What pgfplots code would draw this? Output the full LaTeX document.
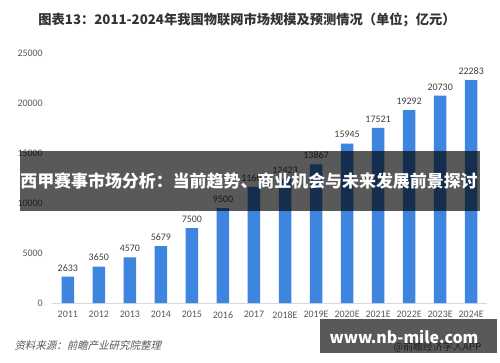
\documentclass[border=0pt]{standalone}
\usepackage{fontspec}
\usepackage{pgfplots}
\pgfplotsset{compat=1.18}
\setmainfont{Carlito}
\newfontfamily\cjk{Noto Sans CJK SC}
\newfontfamily\cjkslant[FakeSlant=0.25]{Noto Sans CJK SC}
\definecolor{barblue}{RGB}{61,133,223}
\definecolor{ticktxt}{RGB}{89,89,89}
\definecolor{valtxt}{RGB}{64,64,64}
\definecolor{titletxt}{RGB}{51,51,51}
\begin{document}
\begin{tikzpicture}[x=1bp,y=1bp]
\path[use as bounding box, fill=white] (0,0) rectangle (500,362);
\begin{axis}[
  at={(52.3bp,59bp)}, anchor=south west,
  scale only axis, width=434.4bp, height=250bp,
  ybar, bar width=12.5bp,
  xmin=-0.5, xmax=13.5, ymin=0, ymax=25000,
  enlarge x limits=false,
  xtick=data,
  xticklabels={2011,2012,2013,2014,2015,2016,2017,2018E,2019E,2020E,2021E,2022E,2023E,2024E},
  ytick={0,5000,10000,15000,20000,25000},
  axis lines*=left,
  y axis line style={draw=none},
  x axis line style={draw=black!15, line width=0.8pt},
  major tick length=0,
  /pgf/number format/assume math mode=true,
  scaled y ticks=false,
  yticklabel={\pgfmathprintnumber[fixed,1000 sep={}]{\tick}},
  ticklabel style={font=\fontsize{10}{12}\selectfont, text=ticktxt},
  yticklabel style={xshift=-6bp},
  xticklabel style={yshift=-5bp},
  nodes near coords,
  nodes near coords style={font=\fontsize{10}{12}\selectfont, text=valtxt, yshift=2bp},
  point meta=explicit symbolic,
]
\addplot[fill=barblue, draw=none] table[x=x, y=y, meta=y] {
x y
0 2633
1 3650
2 4570
3 5679
4 7500
5 9500
6 11605
7 12423
8 13867
9 15945
10 17521
11 19292
12 20730
13 22283
};
\end{axis}
% title
\node[text=titletxt, font={\cjk\bfseries\fontsize{13.3}{15}\selectfont}] at (247,342) {图表13：2011-2024年我国物联网市场规模及预测情况（单位；亿元）};
% source
\node[anchor=west, text=ticktxt, font={\cjkslant\fontsize{10.5}{12}\selectfont}] at (11,16) {资料来源：前瞻产业研究院整理};
\node[anchor=east, text=ticktxt, font={\cjk\fontsize{10}{12}\selectfont}] at (485,15) {@前瞻经济学人APP};
% overlay band
\fill[black, opacity=0.65] (20,151) rectangle (480,211);
\node[text=white, font={\cjk\bfseries\fontsize{17}{19}\selectfont}] at (249,181) {西甲赛事市场分析：当前趋势、商业机会与未来发展前景探讨};
% bottom banner
\fill[black, opacity=0.65] (320,9.3) rectangle (497,43);
\node[text=white, font={\cjk\bfseries\fontsize{16}{18}\selectfont}] at (404,25) {www.nb-mile.com};
\end{tikzpicture}
\end{document}
